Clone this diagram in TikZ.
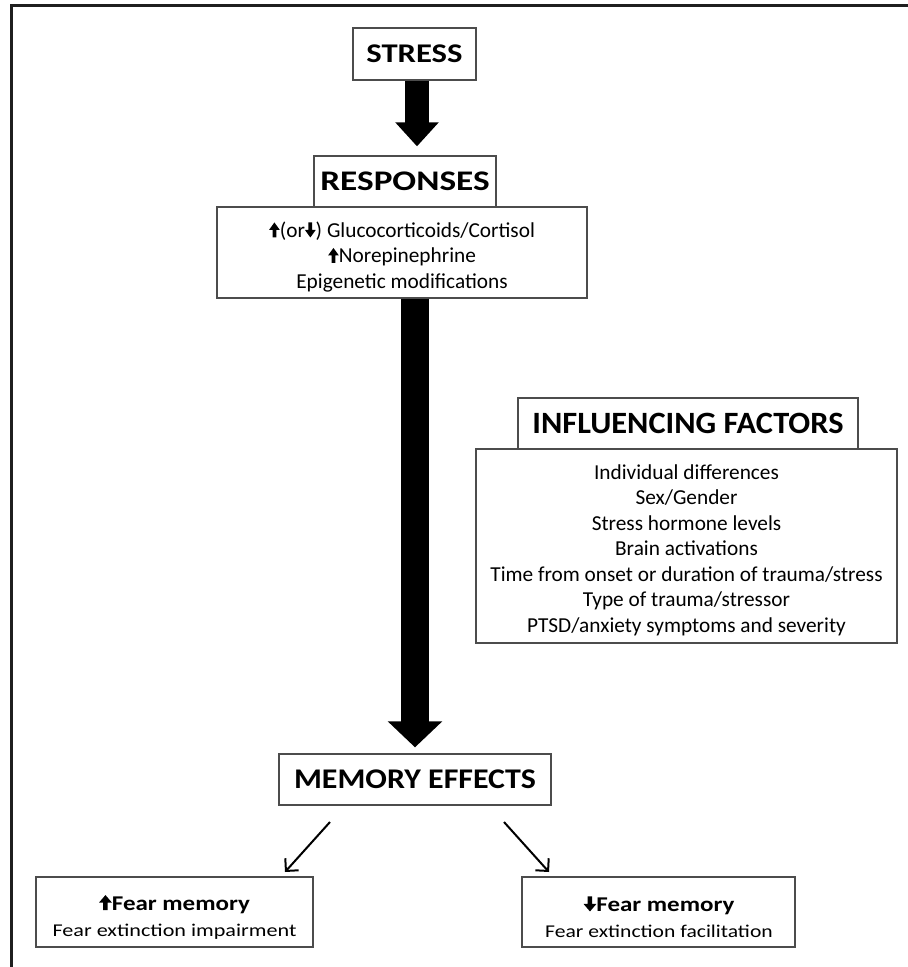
\documentclass[tikz,border=0pt]{standalone}
\usepackage{fontspec}
\setmainfont{Carlito}
\usetikzlibrary{arrows.meta}
\newsavebox\uparrowbox
\newsavebox\dnarrowbox
\newcommand{\UpA}{\usebox\uparrowbox}
\newcommand{\DnA}{\usebox\dnarrowbox}
\newcommand{\ArrPt}[2]{\pgfpathlineto{\pgfpoint{#1pt}{#2pt}}}
\begin{document}
\sbox\uparrowbox{\begin{pgfpicture}%
\pgfpathmoveto{\pgfpoint{-1.9pt}{0pt}}\ArrPt{-1.9}{7.5}\ArrPt{-5.4}{7.5}\ArrPt{0}{15}\ArrPt{5.4}{7.5}\ArrPt{1.9}{7.5}\ArrPt{1.9}{0}\pgfpathclose
\pgfusepath{fill}\end{pgfpicture}}%
\sbox\dnarrowbox{\begin{pgfpicture}%
\pgfpathmoveto{\pgfpoint{-1.9pt}{15pt}}\ArrPt{-1.9}{7.5}\ArrPt{-5.4}{7.5}\ArrPt{0}{0}\ArrPt{5.4}{7.5}\ArrPt{1.9}{7.5}\ArrPt{1.9}{15}\pgfpathclose
\pgfusepath{fill}\end{pgfpicture}}%
\begin{tikzpicture}[x=1pt,y=-1pt,
  box/.style={draw=black!70, line width=1.3pt, fill=white, inner sep=0pt},
  titlebox/.style={box, font=\bfseries, minimum height=51pt},
  bodytext/.style={align=center, inner sep=0pt, font=\fontsize{21.3}{25.5}\selectfont},
  thinarrow/.style={line width=2pt, -{Straight Barb[length=9pt,width=18pt,line width=2pt]}},
]
\useasboundingbox (0,0) rectangle (908,967);
\draw[line width=3pt, black!88] (11.5,1000) -- (11.5,5) -- (920,5);

\node[titlebox, minimum width=123pt, minimum height=52pt] (stress) at (414.5,54)
  {\fontsize{27}{30}\selectfont\scalebox{1.21}[1]{STRESS}};

\node[box, minimum width=370pt, minimum height=91pt] (respbox) at (402,252.5) {};
\node[bodytext] (resptext) at (402,257)
  {\UpA(or\DnA) Glucocorticoids/Cortisol\\ \UpA Norepinephrine\\ Epigenetic modifications};
\node[titlebox, minimum width=182pt] (resp) at (405,181.5)
  {\fontsize{28.4}{32}\selectfont\scalebox{1.24}[1]{RESPONSES}};

\node[box, minimum width=421pt, minimum height=194pt] (facbox) at (686.5,546) {};
\node[bodytext] (factext) at (686.5,550)
  {Individual differences\\ Sex/Gender\\ Stress hormone levels\\ Brain activations\\
   Time from onset or duration of trauma/stress\\ Type of trauma/stressor\\
   PTSD/anxiety symptoms and severity};
\node[titlebox, minimum width=340pt] (fac) at (688,423.5)
  {\fontsize{31}{34}\selectfont\scalebox{1.045}[1]{INFLUENCING FACTORS}};

\node[titlebox, minimum width=272pt] (mem) at (415,779.5)
  {\fontsize{28.5}{32}\selectfont\scalebox{1.12}[1]{MEMORY EFFECTS}};

\node[box, minimum width=277pt, minimum height=70pt] (upbox) at (174.5,912) {};
\node[align=center, inner sep=0pt, font=\fontsize{18}{26}\selectfont] (uptext) at (174.5,917)
  {\scalebox{1.19}[1]{\bfseries\fontsize{21}{26}\selectfont\UpA Fear memory}\\
   \scalebox{1.23}[1]{Fear extinction impairment}};
\node[box, minimum width=273pt, minimum height=70pt] (dnbox) at (658.5,912) {};
\node[align=center, inner sep=0pt, font=\fontsize{18}{26}\selectfont] (dntext) at (659,917)
  {\scalebox{1.19}[1]{\bfseries\fontsize{21}{26}\selectfont\DnA Fear memory}\\
   \scalebox{1.2}[1]{Fear extinction facilitation}};

\coordinate (ax) at (417,0);
\coordinate (bx) at (415,0);
\draw[line width=24pt, -{Triangle[length=24pt,width=42pt]}, shorten >=9pt]
  (stress.south -| ax) -- (resp.north -| ax);
\draw[line width=28pt, -{Triangle[length=26pt,width=53pt]}, shorten >=6pt]
  (respbox.south -| bx) -- (mem.north -| bx);

\coordinate (l1) at (330,822);
\coordinate (l2) at (285,872);
\coordinate (r1) at (504,822);
\coordinate (r2) at (549,872);
\draw[thinarrow] (l1) -- (l2);
\draw[thinarrow] (r1) -- (r2);
\end{tikzpicture}
\end{document}
